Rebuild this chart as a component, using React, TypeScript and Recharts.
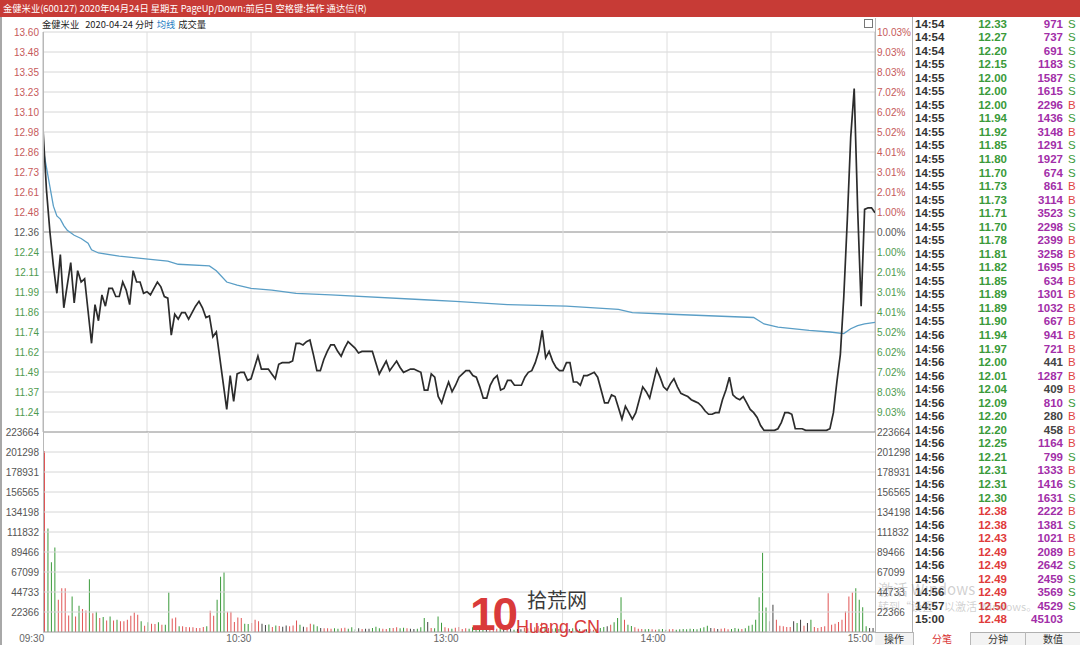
import React from 'react';
import { ComposedChart, Line, Bar, Cell, XAxis, YAxis, ReferenceLine } from 'recharts';

const PREV_CLOSE = 12.36;
const PRICE_STEP = 0.124;
const VOL_STEP = 22366.4;

const titleText = '金健米业(600127) 2020年04月24日 星期五 PageUp/Down:前后日 空格键:操作 通达信(R)';
const headerName = '金健米业';
const headerDate = '2020-04-24 分时';
const headerAvg = '均线';
const headerVol = '成交量';

const priceTickLabels = ['13.60', '13.48', '13.35', '13.23', '13.10', '12.98', '12.86', '12.73', '12.61', '12.48', '12.36', '12.24', '12.11', '11.99', '11.86', '11.74', '11.62', '11.49', '11.37', '11.24'];
const pctTickLabels = ['10.03%', '9.03%', '8.03%', '7.02%', '6.02%', '5.02%', '4.01%', '3.01%', '2.01%', '1.00%', '0.00%', '1.00%', '2.01%', '3.01%', '4.01%', '5.02%', '6.02%', '7.02%', '8.03%', '9.03%'];
const volTickLabels = ['223664', '201298', '178931', '156565', '134198', '111832', '89466', '67099', '44733', '22366'];
const timeTickLabels = ['09:30', '10:30', '13:00', '14:00', '15:00'];
const timeTickMinutes = [0, 60, 120, 180, 240];
const gridMinutes = [30, 60, 90, 120, 150, 180, 210];

const prices = [
  13.00, 12.62, 12.36, 12.15, 11.98, 12.22, 11.89, 12.03, 12.17, 11.92,
  12.12, 12.05, 12.07, 11.87, 11.67, 11.91, 11.81, 11.97, 11.90, 12.01,
  12.01, 11.96, 11.96, 12.05, 12.00, 11.91, 12.12, 12.05, 12.05, 11.98,
  11.99, 11.97, 12.01, 12.05, 12.02, 11.96, 11.95, 11.72, 11.85, 11.82,
  11.86, 11.86, 11.82, 11.86, 11.90, 11.93, 11.89, 11.83, 11.84, 11.71,
  11.74, 11.58, 11.42, 11.26, 11.47, 11.31, 11.48, 11.49, 11.49, 11.44,
  11.45, 11.52, 11.59, 11.51, 11.51, 11.51, 11.48, 11.45, 11.54, 11.55,
  11.55, 11.55, 11.56, 11.67, 11.67, 11.66, 11.68, 11.69, 11.60, 11.50,
  11.50, 11.57, 11.62, 11.66, 11.66, 11.62, 11.59, 11.64, 11.68, 11.66,
  11.64, 11.61, 11.62, 11.62, 11.62, 11.62, 11.55, 11.48, 11.52, 11.56,
  11.50, 11.53, 11.56, 11.52, 11.49, 11.50, 11.51, 11.51, 11.50, 11.49,
  11.38, 11.38, 11.48, 11.46, 11.34, 11.30, 11.37, 11.43, 11.37, 11.41,
  11.46, 11.48, 11.50, 11.50, 11.47, 11.46, 11.40, 11.33, 11.33, 11.41,
  11.45, 11.47, 11.38, 11.39, 11.44, 11.44, 11.41, 11.41, 11.41, 11.46,
  11.49, 11.50, 11.55, 11.62, 11.75, 11.58, 11.62, 11.56, 11.52, 11.50,
  11.50, 11.55, 11.55, 11.43, 11.43, 11.41, 11.47, 11.47, 11.48, 11.49,
  11.46, 11.38, 11.30, 11.30, 11.35, 11.34, 11.27, 11.20, 11.28, 11.24,
  11.20, 11.24, 11.32, 11.40, 11.37, 11.33, 11.42, 11.51, 11.46, 11.40,
  11.38, 11.42, 11.45, 11.40, 11.36, 11.35, 11.34, 11.32, 11.31, 11.30,
  11.28, 11.25, 11.23, 11.23, 11.24, 11.24, 11.32, 11.38, 11.46, 11.35,
  11.33, 11.32, 11.34, 11.30, 11.26, 11.24, 11.21, 11.16, 11.13, 11.13,
  11.13, 11.13, 11.14, 11.18, 11.24, 11.24, 11.23, 11.14, 11.14, 11.14,
  11.13, 11.13, 11.13, 11.13, 11.13, 11.13, 11.13, 11.14, 11.24, 11.43,
  11.60, 11.96, 12.43, 12.95, 13.25, 12.50, 11.90, 12.50, 12.51, 12.51, 12.48,
];

const avgMinutes = [0, 1, 2, 3, 4, 5, 6, 7, 9, 11, 13, 14, 16, 22, 31, 36, 39, 48, 50, 53, 56, 60, 66, 73, 83, 110, 119, 134, 151, 166, 170, 181, 205, 208, 212, 221, 227, 231, 233, 235, 237, 240];
const avgPrices = [12.88, 12.76, 12.64, 12.52, 12.46, 12.44, 12.40, 12.37, 12.34, 12.32, 12.29, 12.25, 12.23, 12.21, 12.19, 12.18, 12.16, 12.15, 12.12, 12.05, 12.03, 12.01, 12.00, 11.98, 11.97, 11.94, 11.93, 11.91, 11.90, 11.88, 11.86, 11.85, 11.83, 11.79, 11.77, 11.75, 11.74, 11.73, 11.76, 11.78, 11.79, 11.80];

const volumes = [
  202500, 115700, 77900, 94600, 36000, 49000, 49000, 18500, 39700, 17400,
  29300, 25600, 24100, 59000, 21100, 22600, 15600, 16700, 13000, 17400,
  13000, 13700, 11900, 11900, 13700, 18200, 21900, 19300, 11900, 7000,
  10800, 9300, 8900, 10800, 8200, 8200, 44100, 15200, 16300, 6300,
  6300, 5600, 5200, 5200, 4500, 4500, 5600, 6300, 23700, 18200,
  36000, 61900, 66800, 22600, 22600, 11100, 16300, 15600, 9300, 8900,
  10000, 13700, 11900, 9300, 7800, 8500, 5600, 7400, 6700, 5900,
  7400, 6300, 7400, 13000, 8200, 5900, 5200, 9300, 8500, 6300,
  4500, 4100, 4100, 3700, 4100, 3700, 4100, 4800, 3700, 5200,
  3000, 4100, 3300, 3700, 3700, 4500, 5900, 4100, 3700, 3300,
  4500, 4500, 5200, 4100, 4800, 4100, 3700, 3300, 3700, 5200,
  15600, 11100, 4500, 4100, 17400, 10400, 5200, 4100, 3700, 4800,
  5600, 3300, 4100, 3700, 5200, 3000, 4500, 6300, 3700, 3300,
  4100, 3700, 5600, 3300, 3000, 3700, 2600, 3300, 3000, 4800,
  4100, 3700, 5200, 6700, 10400, 5900, 4500, 3700, 4100, 3300,
  3000, 3700, 3300, 4100, 3000, 3300, 2600, 3000, 3300, 2600,
  3700, 4500, 5600, 6300, 8200, 11000, 15600, 39000, 13700, 8200,
  6700, 5200, 3700, 3300, 3000, 3300, 3000, 2600, 3000, 3300,
  2600, 3000, 3300, 2600, 3000, 3300, 3000, 3700, 3300, 3000,
  4100, 5200, 7000, 4500, 4100, 3300, 3700, 4100, 3000, 3300,
  4500, 3700, 3300, 4100, 7000, 8200, 13700, 39000, 88600, 27400,
  11900, 30400, 13700, 7000, 6300, 5600, 5600, 11900, 10000, 13700,
  7000, 10000, 13700, 5600, 4500, 5600, 6300, 43400, 8200, 9300,
  11100, 13700, 23000, 39700, 44100, 49000, 36000, 27800, 6300, 4500, 4500,
];

// u = up minute, d = down minute, f = flat minute
const volDirections = (
  'uddduuuudu' + 'duudududud' + 'uduuuuuudu' + 'duududduud' + 'uuuuuuuduu' +
  'ddduuuuudd' + 'uuuffduduf' + 'fuuudfuudd' + 'fuuudduudd' + 'dfuffddduu' +
  'duudduffdd' + 'dfuddduudu' + 'uuudddddfu' + 'uudfufdffu' + 'uuuuududdd' +
  'fufdfdufuu' + 'dddfudddud' + 'duuudduudd' + 'duuddddddd' + 'dddfufuuud' +
  'dduddddddd' + 'ffuuuuufdf' + 'ufduuuuuuu' + 'uuuuuddddff'
).split('');

const tradeTimes = ['14:54', '14:54', '14:54',
  '14:55', '14:55', '14:55', '14:55', '14:55', '14:55', '14:55', '14:55', '14:55', '14:55',
  '14:55', '14:55', '14:55', '14:55', '14:55', '14:55', '14:55', '14:55', '14:55', '14:55',
  '14:56', '14:56', '14:56', '14:56', '14:56', '14:56', '14:56', '14:56', '14:56', '14:56',
  '14:56', '14:56', '14:56', '14:56', '14:56', '14:56', '14:56', '14:56', '14:56', '14:56',
  '14:57', '15:00'];
const tradePrices = [12.33, 12.27, 12.20, 12.15, 12.00, 12.00, 12.00, 11.94, 11.92, 11.85,
  11.80, 11.70, 11.73, 11.73, 11.71, 11.70, 11.78, 11.81, 11.82, 11.85,
  11.89, 11.89, 11.90, 11.94, 11.97, 12.00, 12.01, 12.04, 12.09, 12.20,
  12.20, 12.25, 12.21, 12.31, 12.31, 12.30, 12.38, 12.38, 12.43, 12.49,
  12.49, 12.49, 12.49, 12.50, 12.48];
const tradeVolumes = [971, 737, 691, 1183, 1587, 1615, 2296, 1436, 3148, 1291,
  1927, 674, 861, 3114, 3523, 2298, 2399, 3258, 1695, 634,
  1301, 1032, 667, 941, 721, 441, 1287, 409, 810, 280,
  458, 1164, 799, 1333, 1416, 1631, 2222, 1381, 1021, 2089,
  2642, 2459, 3569, 4529, 45103];
const tradeSides = ['S', 'S', 'S', 'S', 'S', 'S', 'B', 'S', 'B', 'S',
  'S', 'S', 'B', 'B', 'S', 'S', 'B', 'B', 'B', 'B',
  'B', 'B', 'B', 'B', 'B', 'B', 'B', 'B', 'S', 'B',
  'B', 'B', 'S', 'B', 'S', 'S', 'B', 'S', 'B', 'B',
  'S', 'S', 'S', 'S', ''];

const tabLabels = ['操作', '分笔', '分钟', '数值'];

const AXIS_RED = '#c65a5a';
const AXIS_GREEN = '#4e9a4e';
const AXIS_DARK = '#555';
const GRID = '#d6d6d6';
const NUM_FONT = '"Liberation Sans", Arial, sans-serif';
const CJK_FONT = '"Noto Sans CJK SC", "Noto Sans", sans-serif';

const PRICE_MIN = PREV_CLOSE - 10 * PRICE_STEP;
const PRICE_MAX = PREV_CLOSE + 10 * PRICE_STEP;
const priceTicks = priceTickLabels.map((_, j) => PREV_CLOSE + (10 - j) * PRICE_STEP);
const volTicks = volTickLabels.map((_, j) => (10 - j) * VOL_STEP);

const stepOf = (v: number) => Math.round((v - PREV_CLOSE) / PRICE_STEP);

const LeftPriceTick = (props: any) => {
  const { y, payload } = props;
  const k = stepOf(payload.value);
  const fill = k > 0 ? AXIS_RED : k < 0 ? AXIS_GREEN : AXIS_DARK;
  return (
    <text x={39} y={y} dy={3.5} textAnchor="end" fill={fill} fontSize={10} fontFamily={NUM_FONT}>
      {priceTickLabels[10 - k]}
    </text>
  );
};

const RightPctTick = (props: any) => {
  const { y, payload } = props;
  const k = stepOf(payload.value);
  const fill = k > 0 ? AXIS_RED : k < 0 ? AXIS_GREEN : AXIS_DARK;
  return (
    <text x={877} y={y} dy={3.5} textAnchor="start" fill={fill} fontSize={10} fontFamily={NUM_FONT}>
      {pctTickLabels[10 - k]}
    </text>
  );
};

const LeftVolTick = (props: any) => {
  const { y, payload } = props;
  const k = Math.round(payload.value / VOL_STEP);
  return (
    <text x={39} y={y} dy={3.5} textAnchor="end" fill={AXIS_DARK} fontSize={10} fontFamily={NUM_FONT}>
      {volTickLabels[10 - k]}
    </text>
  );
};

const RightVolTick = (props: any) => {
  const { y, payload } = props;
  const k = Math.round(payload.value / VOL_STEP);
  return (
    <text x={877} y={y} dy={3.5} textAnchor="start" fill={AXIS_DARK} fontSize={10} fontFamily={NUM_FONT}>
      {volTickLabels[10 - k]}
    </text>
  );
};

const TimeTick = (props: any) => {
  const { x, payload } = props;
  const idx = timeTickMinutes.indexOf(Number(payload.value));
  return (
    <text x={x - 13} y={642} textAnchor="middle" fill="#666" fontSize={10} fontFamily={NUM_FONT}>
      {idx >= 0 ? timeTickLabels[idx] : ''}
    </text>
  );
};

const barColor = (d: string) => (d === 'u' ? '#e05555' : d === 'd' ? '#3a9a3a' : '#444');

export default function App() {
  const priceData = prices.map((p, i) => {
    const a = avgMinutes.indexOf(i);
    return { i, price: p, avg: a >= 0 ? avgPrices[a] : null };
  });
  const volData = volumes.map((v, i) => ({ i, v }));
  const ROW_H = 13.54;

  return (
    <div style={{ position: 'absolute', left: 0, top: 0, width: 1080, height: 645, background: '#fff', overflow: 'hidden' }}>
      {/* price panel */}
      <div style={{ position: 'absolute', left: 0, top: 0 }}>
        <ComposedChart width={1080} height={645} data={priceData} margin={{ top: 32, right: 0, bottom: 213, left: 0 }}>
          <XAxis type="number" dataKey="i" domain={[0, 240]} hide height={0} allowDataOverflow />
          <YAxis yAxisId="l" type="number" domain={[PRICE_MIN, PRICE_MAX]} ticks={priceTicks} interval={0}
            width={43} axisLine={false} tickLine={false} tick={<LeftPriceTick />} allowDataOverflow />
          <YAxis yAxisId="r" orientation="right" type="number" domain={[PRICE_MIN, PRICE_MAX]} ticks={priceTicks} interval={0}
            width={205} axisLine={false} tickLine={false} tick={<RightPctTick />} allowDataOverflow />
          {priceTicks.map((v, j) => (
            <ReferenceLine key={'py' + j} yAxisId="l" y={v} stroke={stepOf(v) === 0 ? '#8a8a8a' : GRID} strokeWidth={1} />
          ))}
          {gridMinutes.map((m) => (
            <ReferenceLine key={'px' + m} yAxisId="l" x={m} stroke="#dedede" strokeWidth={1} />
          ))}
          <ReferenceLine yAxisId="l" x={0} stroke="#b8b8b8" />
          <ReferenceLine yAxisId="l" x={240} stroke="#b8b8b8" />
          <Line yAxisId="l" type="linear" dataKey="avg" stroke="#5a9ec6" strokeWidth={1.3} dot={false} connectNulls isAnimationActive={false} />
          <Line yAxisId="l" type="linear" dataKey="price" stroke="#2c2c2c" strokeWidth={1.7} dot={false} isAnimationActive={false} />
        </ComposedChart>
      </div>

      {/* volume panel */}
      <div style={{ position: 'absolute', left: 0, top: 0 }}>
        <ComposedChart width={1080} height={645} data={volData} margin={{ top: 432, right: 0, bottom: 0, left: 0 }} barCategoryGap={0}>
          <XAxis dataKey="i" type="category" ticks={timeTickMinutes} interval={0} height={13}
            axisLine={false} tickLine={false} tick={<TimeTick />} />
          <YAxis yAxisId="l" type="number" domain={[0, 10 * VOL_STEP]} ticks={volTicks} interval={0}
            width={43} axisLine={false} tickLine={false} tick={<LeftVolTick />} allowDataOverflow />
          <YAxis yAxisId="r" orientation="right" type="number" domain={[0, 10 * VOL_STEP]} ticks={volTicks} interval={0}
            width={205} axisLine={false} tickLine={false} tick={<RightVolTick />} allowDataOverflow />
          {volTicks.map((v, j) => (
            <ReferenceLine key={'vy' + j} yAxisId="l" y={v} stroke={j === 0 ? '#8a8a8a' : GRID} />
          ))}
          <ReferenceLine yAxisId="l" y={0} stroke="#9a9a9a" />
          {gridMinutes.map((m) => (
            <ReferenceLine key={'vx' + m} yAxisId="l" x={m} stroke="#dedede" />
          ))}
          <Bar yAxisId="l" dataKey="v" barSize={1} isAnimationActive={false}>
            {volData.map((d, idx) => (
              <Cell key={idx} fill={barColor(volDirections[idx])} />
            ))}
          </Bar>
        </ComposedChart>
      </div>

      {/* plot borders */}
      <div style={{ position: 'absolute', left: 43, top: 32, width: 1, height: 600, background: '#b8b8b8' }} />
      <div style={{ position: 'absolute', left: 875, top: 18, width: 1, height: 614, background: '#b8b8b8' }} />
      <div style={{ position: 'absolute', left: 0, top: 17, width: 2, height: 628, background: '#a8a8a8' }} />

      {/* title bar */}
      <div style={{ position: 'absolute', left: 0, top: 0, width: 1080, height: 17, background: '#c73b36' }} />
      <div style={{ position: 'absolute', left: 3, top: 0, height: 17, lineHeight: '17px', color: '#fff', fontSize: 9.3, fontFamily: CJK_FONT, whiteSpace: 'nowrap' }}>
        {titleText}
      </div>

      {/* header line */}
      <div style={{ position: 'absolute', left: 42, top: 17, height: 14, lineHeight: '14px', fontSize: 9.3, fontFamily: CJK_FONT, color: '#222', whiteSpace: 'nowrap' }}>
        <span>{headerName}</span>
        <span style={{ marginLeft: 6 }}>{headerDate}</span>
        <span style={{ marginLeft: 3, color: '#2a7fc4' }}>{headerAvg}</span>
        <span style={{ marginLeft: 3 }}>{headerVol}</span>
      </div>
      <div style={{ position: 'absolute', left: 864, top: 19, width: 7, height: 7, border: '1px solid #777', background: '#fff' }} />

      {/* trade list */}
      <div style={{ position: 'absolute', left: 912, top: 17, width: 1, height: 615, background: '#b0b0b0' }} />
      {tradeTimes.map((t, k) => {
        const top = 16.6 + k * ROW_H;
        const p = tradePrices[k];
        const pColor = p > PREV_CLOSE ? '#e03b3b' : p < PREV_CLOSE ? '#3a9a3a' : '#333';
        const v = tradeVolumes[k];
        const vColor = v >= 500 ? '#a22ea8' : '#444';
        const s = tradeSides[k];
        const sColor = s === 'B' ? '#e04545' : '#3a9a3a';
        const rowStyle: React.CSSProperties = { position: 'absolute', top, height: 14, lineHeight: '14px', fontSize: 11.5, fontWeight: 'bold', fontFamily: NUM_FONT, whiteSpace: 'nowrap' };
        return (
          <React.Fragment key={'r' + k}>
            <div style={{ ...rowStyle, left: 915, color: '#333' }}>{t}</div>
            <div style={{ ...rowStyle, left: 958, width: 49, textAlign: 'right', color: pColor }}>{p.toFixed(2)}</div>
            <div style={{ ...rowStyle, left: 1010, width: 53, textAlign: 'right', color: vColor }}>{v}</div>
            <div style={{ ...rowStyle, left: 1068, color: sColor, fontWeight: 'normal' }}>{s}</div>
          </React.Fragment>
        );
      })}

      {/* bottom tabs */}
      <div style={{ position: 'absolute', left: 875, top: 632, width: 205, height: 13, background: '#f3f3f3', borderTop: '1px solid #b0b0b0' }} />
      {tabLabels.map((t, k) => {
        const edges = [875, 913, 970, 1025, 1080];
        return (
          <div key={'tab' + k} style={{ position: 'absolute', left: edges[k], top: 632, width: edges[k + 1] - edges[k], height: 13,
            lineHeight: '13px', textAlign: 'center', fontSize: 10, fontFamily: CJK_FONT, color: k === 1 ? '#d83030' : '#333',
            borderLeft: k > 0 ? '1px solid #b8b8b8' : 'none', boxSizing: 'border-box', background: k === 1 ? '#fff' : 'transparent' }}>
            {t}
          </div>
        );
      })}

      {/* watermarks */}
      <div style={{ position: 'absolute', left: 878, top: 578, fontSize: 15, fontFamily: CJK_FONT, color: 'rgba(120,120,120,0.35)', whiteSpace: 'nowrap' }}>激活 Windows</div>
      <div style={{ position: 'absolute', left: 878, top: 598, fontSize: 11, fontFamily: CJK_FONT, color: 'rgba(120,120,120,0.35)', whiteSpace: 'nowrap' }}>转到“设置”以激活 Windows。</div>
      <div style={{ position: 'absolute', left: 470, top: 588, fontSize: 46, lineHeight: '52px', fontWeight: 'bold', fontFamily: NUM_FONT, color: '#d93a3a', letterSpacing: -3 }}>10</div>
      <div style={{ position: 'absolute', left: 527, top: 588, fontSize: 20, lineHeight: '24px', fontFamily: CJK_FONT, color: '#3a3a3a' }}>拾荒网</div>
      <div style={{ position: 'absolute', left: 516, top: 616, fontSize: 18, lineHeight: '22px', fontFamily: NUM_FONT, color: '#d93a3a' }}>Huang.CN</div>
    </div>
  );
}
